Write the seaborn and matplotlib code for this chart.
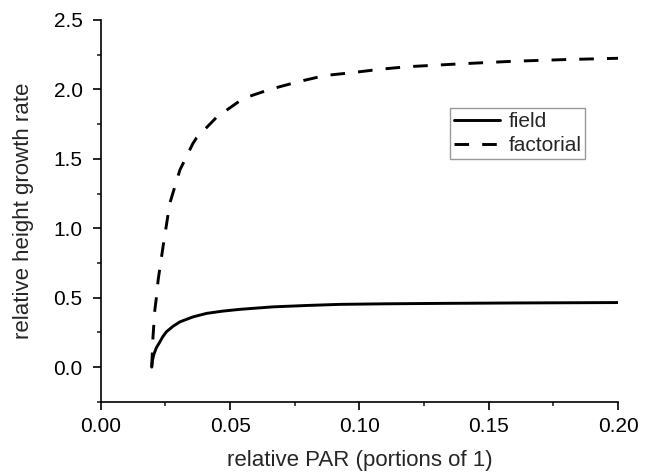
import pandas as pd
import numpy as np
import seaborn as sns
import matplotlib.pyplot as plt
from matplotlib.ticker import MultipleLocator, FormatStrFormatter

## 데이터
field_x = [0.0197, 0.0200, 0.0205, 0.0215, 0.0228, 0.0240, 0.0254, 0.0280, 0.0306, 0.0357,
           0.0409, 0.0470, 0.0537, 0.0666, 0.0796, 0.0925, 0.110, 0.131, 0.160, 0.200]
field_y = [0.0, 0.05, 0.09, 0.14, 0.18, 0.22, 0.255, 0.295, 0.326, 0.362,
           0.387, 0.403, 0.416, 0.434, 0.444, 0.452, 0.456, 0.459, 0.462, 0.465]

fact_x = [0.0197, 0.0202, 0.0209, 0.0215, 0.0222, 0.0241, 0.0267, 0.0306, 0.0356, 0.0370,
          0.0448, 0.0551, 0.0654, 0.0763, 0.0867, 0.097, 0.108, 0.1183, 0.140, 0.160,
          0.180, 0.200]
fact_y = [0.0, 0.22, 0.41, 0.50, 0.63, 0.87, 1.18, 1.42, 1.61, 1.65,
          1.80, 1.935, 2.00, 2.055, 2.10, 2.12, 2.145, 2.163, 2.185, 2.203,
          2.215, 2.224]

df = pd.concat([
    pd.DataFrame({'par': field_x, 'rate': field_y, 'group': 'field'}),
    pd.DataFrame({'par': fact_x, 'rate': fact_y, 'group': 'factorial'}),
], ignore_index=True)

sns.set_style('ticks')
plt.rcParams['font.family'] = ['Liberation Sans', 'DejaVu Sans']

fig = plt.figure(figsize=(6.5, 4.75), dpi=100)
ax = fig.add_axes([0.155, 0.154, 0.796, 0.804])

sns.lineplot(data=df, x='par', y='rate', style='group', color='black', linewidth=2.1,
             dashes={'field': '', 'factorial': (5, 4.5)}, ax=ax)

ax.set_xlim(0, 0.2)
ax.set_ylim(-0.25, 2.5)
ax.xaxis.set_major_locator(MultipleLocator(0.05))
ax.xaxis.set_minor_locator(MultipleLocator(0.025))
ax.yaxis.set_major_locator(MultipleLocator(0.5))
ax.yaxis.set_minor_locator(MultipleLocator(0.25))
ax.xaxis.set_major_formatter(FormatStrFormatter('%.2f'))
ax.yaxis.set_major_formatter(FormatStrFormatter('%.1f'))
ax.tick_params(which='major', length=6, width=1.2, labelsize=15, direction='out', colors='black')
ax.tick_params(which='minor', length=3, width=1.2, direction='out')
ax.tick_params(axis='x', which='major', pad=5)
ax.tick_params(axis='y', which='major', pad=7)

for s in ['top', 'right']:
    ax.spines[s].set_visible(False)
for s in ['left', 'bottom']:
    ax.spines[s].set_linewidth(1.2)
    ax.spines[s].set_color('black')

ax.set_xlabel('relative PAR (portions of 1)', fontsize=16, labelpad=10)
ax.set_ylabel('relative height growth rate', fontsize=16, labelpad=14)

leg = ax.legend(loc='upper left', bbox_to_anchor=(0.675, 0.77), fontsize=15, frameon=True,
                fancybox=False, edgecolor='gray', borderpad=0.2, handlelength=2.2,
                handletextpad=0.4, labelspacing=0.25, borderaxespad=0)
leg.get_frame().set_linewidth(1.0)

fig.savefig('out.png', dpi=100)
